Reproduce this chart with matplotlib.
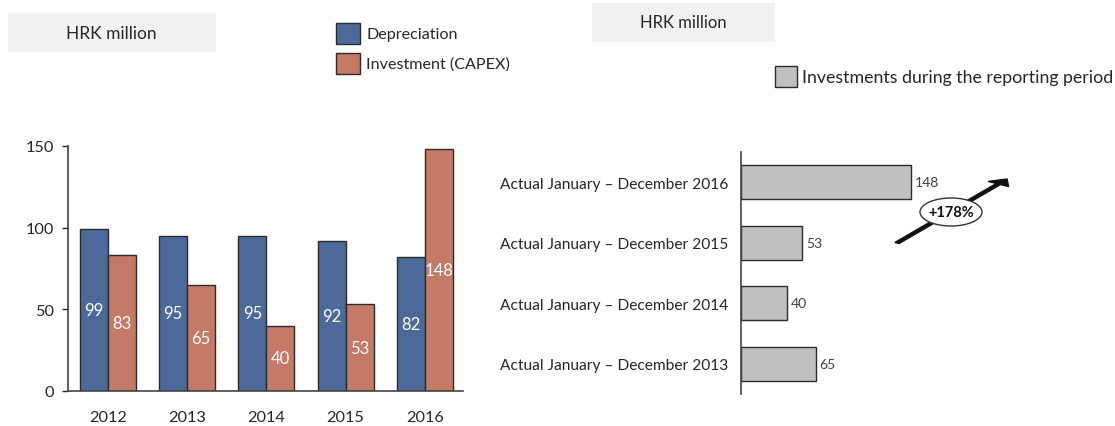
import matplotlib
matplotlib.use("Agg")
import matplotlib.pyplot as plt
from matplotlib.patches import Rectangle, Ellipse, FancyArrow

plt.rcParams['font.family'] = ['Lato', 'DejaVu Sans']

# data
years = ["2012", "2013", "2014", "2015", "2016"]
depreciation = [99, 95, 95, 92, 82]
capex = [83, 65, 40, 53, 148]

periods = ["Actual January – December 2013", "Actual January – December 2014",
           "Actual January – December 2015", "Actual January – December 2016"]
investments = [65, 40, 53, 148]
growth_label = "+178%"

BLUE = "#4b6a9a"
ORANGE = "#c47a66"
GREY = "#c0c0c0"
EDGE = "#2b2b2b"
TXT = "#262626"

W, H = 1115, 427
fig = plt.figure(figsize=(W / 100, H / 100), dpi=100)


def px_axes(x0, y0, x1, y1):
    # pixel box (top-left origin) -> figure axes
    return fig.add_axes([x0 / W, 1 - y1 / H, (x1 - x0) / W, (y1 - y0) / H])


def px(x, y):
    return x / W, 1 - y / H


# ---- left chart ----
ax1 = px_axes(68, 147, 463, 392)
bw = 0.353
xs = range(len(years))
b1 = ax1.bar([i - bw / 2 for i in xs], depreciation, bw, color=BLUE, edgecolor=EDGE, linewidth=1.0)
b2 = ax1.bar([i + bw / 2 for i in xs], capex, bw, color=ORANGE, edgecolor=EDGE, linewidth=1.0)
for bars, vals in ((b1, depreciation), (b2, capex)):
    for r, v in zip(bars, vals):
        ax1.text(r.get_x() + r.get_width() / 2, v / 2, str(v), ha="center", va="center",
                 color="white", fontsize=12)
ax1.set_xlim(-0.5, 4.48)
ax1.set_ylim(0, 150)
ax1.set_yticks([0, 50, 100, 150])
ax1.set_xticks(list(xs))
ax1.set_xticklabels(years)
ax1.tick_params(axis="x", length=0, pad=14, labelsize=11.8, colors=TXT)
ax1.tick_params(axis="y", length=4, width=1, pad=6, labelsize=11.8, colors=TXT)
for s in ("top", "right"):
    ax1.spines[s].set_visible(False)
for s in ("left", "bottom"):
    ax1.spines[s].set_color("#444444")
    ax1.spines[s].set_linewidth(1.2)

# title box + legend
x0, y0 = px(8, 53)
fig.patches.append(Rectangle((x0, y0), 208 / W, 39 / H, transform=fig.transFigure,
                             facecolor="#f2f2f2", edgecolor="none"))
fig.text(*px(111, 34), "HRK million", ha="center", va="center", fontsize=12.5, color=TXT)
for (ytop, col, lab) in ((24, BLUE, "Depreciation"), (54, ORANGE, "Investment (CAPEX)")):
    lx, ly = px(336, ytop + 21)
    fig.patches.append(Rectangle((lx, ly), 24 / W, 21 / H, transform=fig.transFigure,
                                 facecolor=col, edgecolor=EDGE, linewidth=1.0))
    fig.text(*px(366, ytop + 11), lab, ha="left", va="center", fontsize=11.6, color=TXT)

# ---- right chart ----
ax2 = px_axes(741, 153, 1100, 395)
ypos = range(len(periods))
bars = ax2.barh(list(ypos), investments, height=0.565, color=GREY, edgecolor=EDGE, linewidth=1.0)
for r, v in zip(bars, investments):
    ax2.text(v + 3.5, r.get_y() + r.get_height() / 2, str(v), ha="left", va="center",
             fontsize=10, color="#404040")
ax2.set_ylim(-0.5, 3.5)
ax2.set_xlim(0, 312.7)
ax2.set_yticks(list(ypos))
ax2.set_yticklabels(periods)
ax2.set_xticks([])
ax2.tick_params(axis="y", length=0, pad=9, labelsize=11.2, colors=TXT)
for s in ("top", "right", "bottom"):
    ax2.spines[s].set_visible(False)
ax2.spines["left"].set_color("#444444")
ax2.spines["left"].set_linewidth(1.2)

x0, y0 = px(592, 43)
fig.patches.append(Rectangle((x0, y0), 183 / W, 39 / H, transform=fig.transFigure,
                             facecolor="#f2f2f2", edgecolor="none"))
fig.text(*px(683, 23), "HRK million", ha="center", va="center", fontsize=12, color=TXT)
lx, ly = px(775, 88)
fig.patches.append(Rectangle((lx, ly), 22 / W, 21 / H, transform=fig.transFigure,
                             facecolor=GREY, edgecolor=EDGE, linewidth=1.0))
fig.text(*px(802, 78), "Investments during the reporting period", ha="left", va="center",
         fontsize=12.8, color=TXT)

# growth arrow
ax_s, ay_s = px(897, 244)
ax_e, ay_e = px(1007, 180)
fig.patches.append(FancyArrow(ax_s, ay_s, ax_e - ax_s, ay_e - ay_s, transform=fig.transFigure,
                              width=0.0045, head_width=0.022, head_length=0.014,
                              length_includes_head=True, color="#111111"))
ex, ey = px(951, 213)
fig.patches.append(Ellipse((ex, ey), 62 / W, 28 / H, transform=fig.transFigure,
                           facecolor="white", edgecolor="#333333", linewidth=1.0, zorder=5))
fig.text(ex, ey, growth_label, ha="center", va="center", fontsize=10.5, fontweight="bold",
         color="#111111", zorder=6)

fig.savefig("out.png", dpi=100)
